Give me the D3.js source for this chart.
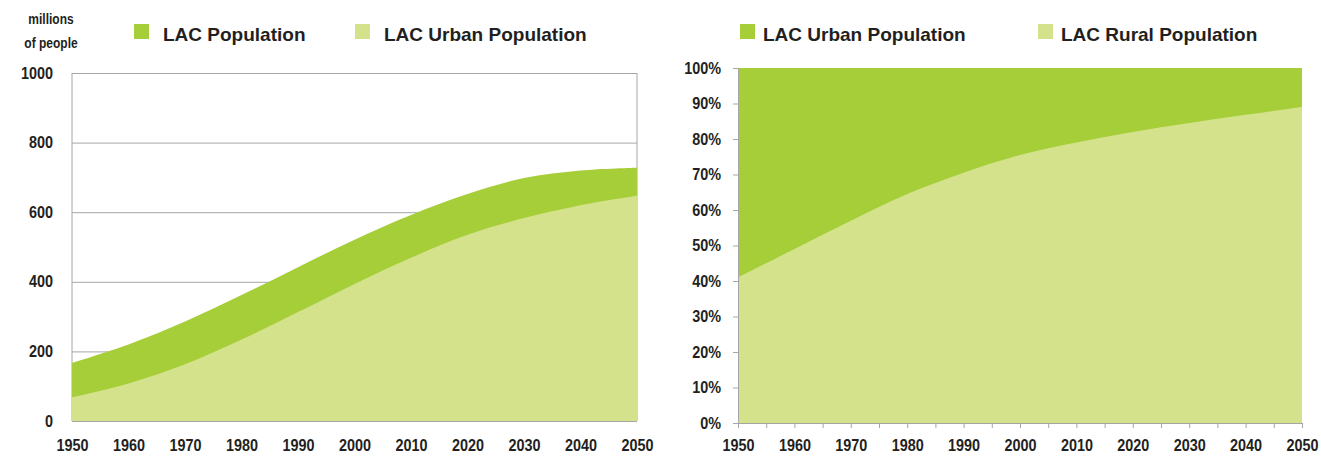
<!DOCTYPE html>
<html>
<head>
<meta charset="utf-8">
<script src="https://cdn.jsdelivr.net/npm/d3@7/dist/d3.min.js"></script>
<style>
  body { margin: 0; background: #fff; }
  text { font-family: "Liberation Sans", Arial, sans-serif; font-weight: bold; fill: #231f20; }
</style>
</head>
<body>
<script>
//data
var years = [1950, 1960, 1970, 1980, 1990, 2000, 2010, 2020, 2030, 2040, 2050];
//millions of people
var lacPopulation = [167, 220, 286, 362, 442, 521, 592, 652, 698, 720, 728];
var lacUrban = [68, 108, 163, 234, 313, 394, 469, 535, 583, 620, 647];
//urban share of population (fraction)
var urbanShare = [0.41, 0.49, 0.57, 0.645, 0.705, 0.755, 0.79, 0.82, 0.845, 0.868, 0.89];

var popTicks = [0, 200, 400, 600, 800, 1000];
var shareTicks = [0, 0.1, 0.2, 0.3, 0.4, 0.5, 0.6, 0.7, 0.8, 0.9, 1];
var yearTicks = [1950, 1960, 1970, 1980, 1990, 2000, 2010, 2020, 2030, 2040, 2050];
var yearMinorTicks = [1950, 1955, 1960, 1965, 1970, 1975, 1980, 1985, 1990, 1995, 2000,
                      2005, 2010, 2015, 2020, 2025, 2030, 2035, 2040, 2045, 2050];

var dark = "#a6ce39", light = "#d3e28b", gray = "#a6a6a6";
var narrow = 0.9;

//squeeze text horizontally (the original font is a narrow one)
function condense(sel, sx) {
    sel.each(function() {
        var t = d3.select(this);
        var x = +t.attr("x") || 0;
        t.attr("x", x / sx).attr("transform", "scale(" + sx + ",1)");
    });
}

var svg = d3.select("body").append("svg")
    .attr("width", 1321)
    .attr("height", 458);

//---------- left chart ----------
var x1 = d3.scaleLinear().domain([1950, 2050]).range([72, 637]);
var y1 = d3.scaleLinear().domain([0, 1000]).range([421, 73]);

var left = svg.append("g");

//gridlines + y labels
var yAx1 = left.append("g")
    .attr("transform", "translate(72,0)")
    .call(d3.axisLeft(y1).tickValues(popTicks).tickSize(-(637 - 72)).tickPadding(19).tickFormat(d3.format("d")));
yAx1.select(".domain").remove();
yAx1.selectAll("line").attr("stroke", gray);
yAx1.selectAll("text").style("font-size", "16px").attr("fill", "#231f20").call(condense, narrow);

//border left/right
left.append("line").attr("x1", 72).attr("x2", 72).attr("y1", 73).attr("y2", 421).attr("stroke", gray);
left.append("line").attr("x1", 637).attr("x2", 637).attr("y1", 73).attr("y2", 421).attr("stroke", gray);

var area1 = d3.area()
    .x(function(d, i) { return x1(years[i]); })
    .y0(y1(0))
    .curve(d3.curveCatmullRom.alpha(0.5));

left.append("path")
    .datum(lacPopulation)
    .attr("fill", dark)
    .attr("d", area1.y1(function(d) { return y1(d); }));

left.append("path")
    .datum(lacUrban)
    .attr("fill", light)
    .attr("d", area1.y1(function(d) { return y1(d); }));

var xAx1 = left.append("g")
    .attr("transform", "translate(0,421)")
    .call(d3.axisBottom(x1).tickValues(yearTicks).tickSize(0).tickPadding(19).tickFormat(d3.format("d")));
xAx1.select(".domain").remove();
xAx1.selectAll("text").style("font-size", "16px").attr("fill", "#231f20").call(condense, narrow);

//unit label
left.append("text").attr("x", 51).attr("y", 24).attr("text-anchor", "middle").style("font-size", "15px").text("millions").call(condense, 0.8);
left.append("text").attr("x", 51).attr("y", 48).attr("text-anchor", "middle").style("font-size", "15px").text("of people").call(condense, 0.8);

//legend
var leg1 = [["LAC Population", dark, 134], ["LAC Urban Population", light, 355]];
leg1.forEach(function(l) {
    left.append("rect").attr("x", l[2]).attr("y", 24).attr("width", 15).attr("height", 15).attr("fill", l[1]);
    left.append("text").attr("x", l[2] + 29).attr("y", 41).style("font-size", "19px").text(l[0]);
});

//---------- right chart ----------
var x2 = d3.scaleLinear().domain([1950, 2050]).range([738, 1302]);
var y2 = d3.scaleLinear().domain([0, 1]).range([423, 68]);

var right = svg.append("g");

var area2 = d3.area()
    .x(function(d, i) { return x2(years[i]); })
    .y0(y2(0))
    .curve(d3.curveCatmullRom.alpha(0.5));

right.append("path")
    .datum(years.map(function() { return 1; }))
    .attr("fill", dark)
    .attr("d", area2.y1(function(d) { return y2(d); }));

right.append("path")
    .datum(urbanShare)
    .attr("fill", light)
    .attr("d", area2.y1(function(d) { return y2(d); }));

var yAx2 = right.append("g")
    .attr("transform", "translate(738,0)")
    .call(d3.axisLeft(y2).tickValues(shareTicks).tickSize(5).tickPadding(12).tickFormat(d3.format(".0%")));
yAx2.selectAll("line, path").attr("stroke", gray);
yAx2.selectAll("text").style("font-size", "16px").attr("fill", "#231f20").call(condense, narrow);

var xAx2 = right.append("g")
    .attr("transform", "translate(0,423)")
    .call(d3.axisBottom(x2).tickValues(yearMinorTicks).tickSize(5).tickPadding(12)
        .tickFormat(function(d) { return yearTicks.indexOf(d) >= 0 ? d : ""; }));
xAx2.selectAll("line, path").attr("stroke", gray);
xAx2.selectAll("text").style("font-size", "16px").attr("fill", "#231f20").call(condense, narrow);

var leg2 = [["LAC Urban Population", dark, 740], ["LAC Rural Population", light, 1038]];
leg2.forEach(function(l) {
    right.append("rect").attr("x", l[2]).attr("y", 24).attr("width", 15).attr("height", 15).attr("fill", l[1]);
    right.append("text").attr("x", l[2] + 23).attr("y", 41).style("font-size", "19px").text(l[0]);
});
</script>
</body>
</html>
